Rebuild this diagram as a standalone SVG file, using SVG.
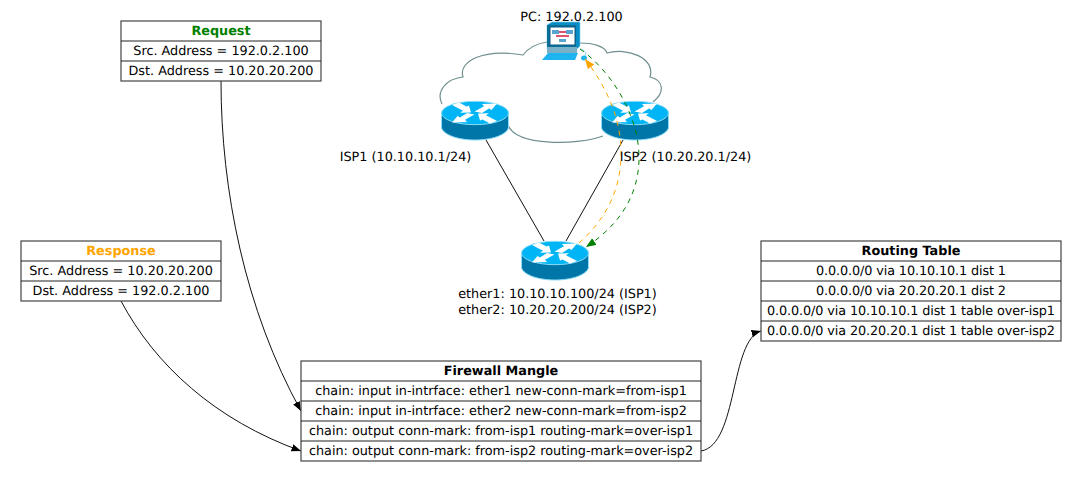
<svg xmlns="http://www.w3.org/2000/svg" width="1082" height="482" viewBox="0 0 1082 482">
<style>
text{font-family:"DejaVu Sans",sans-serif;font-size:12.8px;fill:#000;text-anchor:middle;text-rendering:geometricPrecision}
.head{font-weight:bold}
.box{fill:#fff;stroke:#444;stroke-width:1.2}
.row{stroke:#222;stroke-width:1.2;fill:none}
.link{fill:none;stroke:#111;stroke-width:1}
.dash{fill:none;stroke-width:1;stroke-dasharray:5 5}
</style>
<defs>
<marker id="ah" markerUnits="userSpaceOnUse" markerWidth="10" markerHeight="8" refX="9.5" refY="4" orient="auto"><path d="M0,0.3L9.5,4L0,7.7z" fill="#000"/></marker>
<marker id="ag" markerUnits="userSpaceOnUse" markerWidth="12" markerHeight="10" refX="10" refY="4.500" orient="auto"><path d="M0,0.5L10,4.500L0,8.500z" fill="#008000"/></marker>
<marker id="ao" markerUnits="userSpaceOnUse" markerWidth="12" markerHeight="10" refX="10" refY="4.500" orient="auto"><path d="M0,0.5L10,4.500L0,8.500z" fill="#ffa500"/></marker>
<symbol id="router" viewBox="0 0 68 40" width="68" height="40" overflow="visible">
<path d="M0.5,12V27C3,34 17,39 34,39S65,34 67.5,27V12z" fill="#0075a8" stroke="#8adcf7" stroke-width="1"/>
<ellipse cx="34" cy="12" rx="33.500" ry="11.700" fill="#00b5f5" stroke="#8adcf7" stroke-width="1"/>
<g fill="#fff">
<path id="arrow-in" d="M11,4L18,1.500L25.500,5.500L28,4.500L30,11.500L19,11.800L22,9.800z"/>
<path id="arrow-out" d="M56,2.500L50.500,9L48,7.500L41,12L33.500,10.500L43,5.200L41,3z"/>
<use href="#arrow-in" transform="rotate(180 33.500 12)"/>
<use href="#arrow-out" transform="rotate(180 33.500 12)"/>
</g>
</symbol>
</defs>

<g id="cloud"><path d="M442,104C436,92 445,79 463,77C458,62 482,48 523,55C530,46 540,43 547,42M580,43C592,43 605,46 607,53C627,47 656,58 650,77C664,80 665,93 653,102M508,125C516,147 580,145 603,136" fill="#fff" stroke="#6e8f8f" stroke-width="1.200"/></g>

<g id="pc">
<path d="M547,25L552,22H580V46L576,50H547z" fill="#0a8cc4" stroke="#7fd6f5" stroke-width="0.600"/>
<rect x="547" y="25" width="29" height="25" fill="#0b6f9c"/>
<rect x="550" y="27" width="25" height="18" fill="#fff" stroke="#0c5c80"/>
<path d="M552,30h7v4h-7zM566,30h7v4h-7zM559,39h7v3h-7z" fill="#5aa5d0"/>
<path d="M559,32h7M556,36h13" stroke="#d81c3f" stroke-width="1.500"/>
<path d="M548,53H578L575,60H542z" fill="#1eb4f0"/>
<path d="M547,47H577V53H547z" fill="#7ab0c8"/>
<path d="M580,49C585,50 587,53 585,56" fill="none" stroke="#7fd6f5"/>
<ellipse cx="584" cy="58" rx="3" ry="2.500" fill="#1eb4f0"/>
</g>

<g id="isp1"><use href="#router" x="441" y="101"/></g>
<g id="isp2"><use href="#router" x="601" y="101"/></g>
<g id="gateway"><use href="#router" x="521" y="241"/></g>

<g id="connectors">
<path class="link" d="M486,140L544,241M623,140L566,241"/>
<path class="dash" stroke="#008000" marker-end="url(#ag)" d="M580,49C610,70 640,115 639,160C638,200 615,228 586,247"/>
<path class="dash" stroke="#ffa500" marker-end="url(#ao)" d="M579,243C605,220 622,190 621,150C620,115 605,85 585,59"/>
<path class="link" marker-end="url(#ah)" d="M221,81C221,190 245,310 301,411"/>
<path class="link" marker-end="url(#ah)" d="M121,301C155,365 215,420 301,451"/>
<path class="link" marker-end="url(#ah)" d="M701,451C738,445 730,340 761,331"/>
</g>

<g id="label-pc"><text x="571.500" y="21">PC: 192.0.2.100</text></g>
<g id="label-isp1"><text x="405.500" y="161">ISP1 (10.10.10.1/24)</text></g>
<g id="label-isp2"><text x="685.500" y="161">ISP2 (10.20.20.1/24)</text></g>
<g id="label-gateway"><text x="557.500" y="298">ether1: 10.10.10.100/24 (ISP1)</text><text x="557.500" y="314">ether2: 10.20.20.200/24 (ISP2)</text></g>

<g id="request">
<rect class="box" x="121" y="21" width="200" height="60"/>
<path class="row" d="M121,41H321M121,61H321"/>
<text class="head" x="221" y="35" style="fill:#008000">Request</text>
<text x="221" y="55">Src. Address = 192.0.2.100</text>
<text x="221" y="75">Dst. Address = 10.20.20.200</text>
</g>

<g id="response">
<rect class="box" x="21" y="241" width="200" height="60"/>
<path class="row" d="M21,261H221M21,281H221"/>
<text class="head" x="121" y="255" style="fill:#ffa500">Response</text>
<text x="121" y="275">Src. Address = 10.20.20.200</text>
<text x="121" y="295">Dst. Address = 192.0.2.100</text>
</g>

<g id="mangle">
<rect class="box" x="301" y="361" width="400" height="100"/>
<path class="row" d="M301,381H701M301,401H701M301,421H701M301,441H701"/>
<text class="head" x="501" y="375">Firewall Mangle</text>
<text x="501" y="395">chain: input in-intrface: ether1 new-conn-mark=from-isp1</text>
<text x="501" y="415">chain: input in-intrface: ether2 new-conn-mark=from-isp2</text>
<text x="501" y="435">chain: output conn-mark: from-isp1 routing-mark=over-isp1</text>
<text x="501" y="455">chain: output conn-mark: from-isp2 routing-mark=over-isp2</text>
</g>

<g id="routing">
<rect class="box" x="761" y="241" width="300" height="100"/>
<path class="row" d="M761,261H1061M761,281H1061M761,301H1061M761,321H1061"/>
<text class="head" x="911" y="255">Routing Table</text>
<text x="911" y="275" textLength="190">0.0.0.0/0 via 10.10.10.1 dist 1</text>
<text x="911" y="295" textLength="190">0.0.0.0/0 via 20.20.20.1 dist 2</text>
<text x="911" y="315" textLength="288">0.0.0.0/0 via 10.10.10.1 dist 1 table over-isp1</text>
<text x="911" y="335" textLength="288">0.0.0.0/0 via 20.20.20.1 dist 1 table over-isp2</text>
</g>
</svg>
